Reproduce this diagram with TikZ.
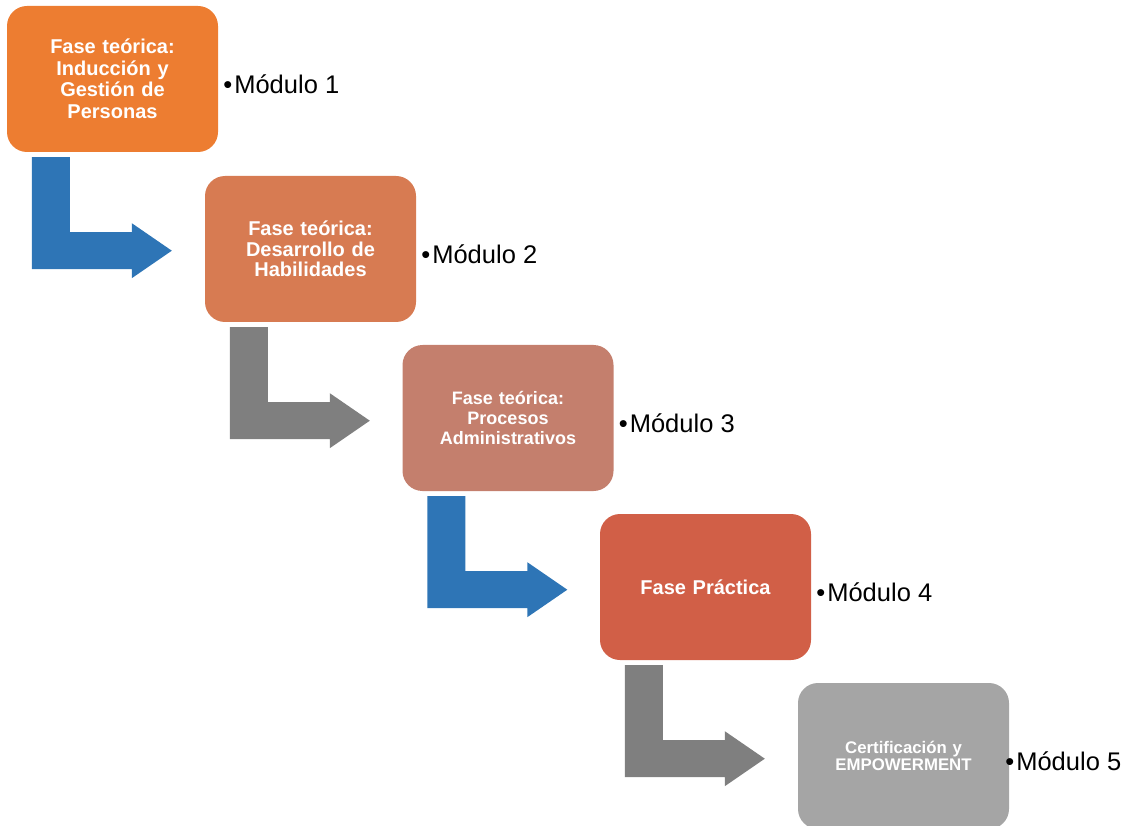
\documentclass[tikz,border=0pt]{standalone}
\usepackage{fontspec}
\setmainfont{Liberation Sans}
\usetikzlibrary{calc}
\definecolor{cone}{HTML}{ED7D31}
\definecolor{ctwo}{HTML}{D77B52}
\definecolor{cthree}{HTML}{C47F6D}
\definecolor{cfour}{HTML}{D15F47}
\definecolor{cfive}{HTML}{A5A5A5}
\definecolor{arrblue}{HTML}{2E75B6}
\definecolor{arrgray}{HTML}{7F7F7F}
\begin{document}
\begin{tikzpicture}[x=1pt,y=-1pt,
  box/.style={rounded corners=20pt, minimum width=211pt, minimum height=146pt,
    inner sep=0pt, text width=205pt, align=center, text=white},
  lbl/.style={anchor=west, font=\fontsize{25.5}{30}\selectfont, inner sep=0pt}]
\useasboundingbox (0,0) rectangle (1130,826);
\clip (0,0) rectangle (1130,826);
\node[box, fill=cone, font=\bfseries\fontsize{20}{21.5}\selectfont] (b1) at (112.5,79)
  {Fase teórica:\\Inducción y\\Gestión de\\Personas};
\node[box, fill=ctwo, font=\bfseries\fontsize{20}{20.5}\selectfont] (b2) at (310.5,249)
  {Fase teórica:\\Desarrollo de\\Habilidades};
\node[box, fill=cthree, font=\bfseries\fontsize{18}{20}\selectfont] (b3) at (508,418)
  {Fase teórica:\\Procesos\\Administrativos};
\node[box, fill=cfour, font=\bfseries\fontsize{20}{22}\selectfont] (b4) at (705.5,587)
  {Fase Práctica};
\node[box, fill=cfive, font=\bfseries\fontsize{16.8}{17.5}\selectfont] (b5) at (903.5,756)
  {Certificación y\\EMPOWERMENT};
\foreach \i/\dx in {1/5,2/5,3/5,4/5,5/-4}{
  \node[lbl] (m\i) at ($(b\i.east)+(\dx,5)$) {•\hspace{2pt}Módulo \i};
}
\foreach \i/\c in {1/arrblue,2/arrgray,3/arrblue,4/arrgray}{
  \fill[\c, shift={(b\i.south west)}] (25,5) -- (63,5) -- (63,80) -- (125,80) -- (125,71)
    -- (165,98.5) -- (125,126) -- (125,117) -- (25,117) -- cycle;
}
\end{tikzpicture}
\end{document}
